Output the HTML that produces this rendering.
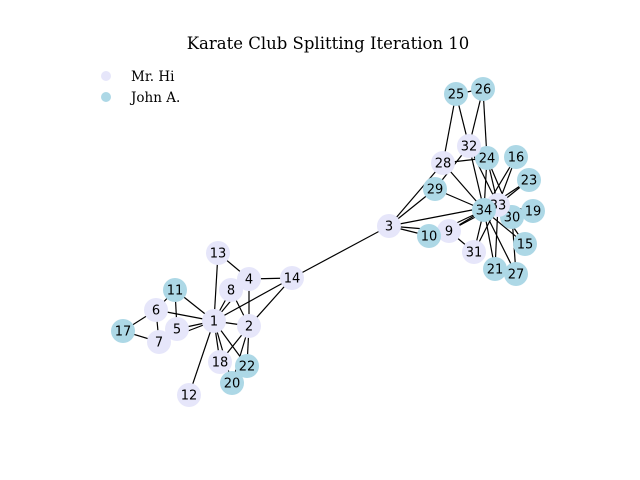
<!DOCTYPE html>
<html><head><meta charset="utf-8"><style>
body{margin:0;background:#fff}
svg{display:block}
</style></head><body>
<svg id="chart" width="640" height="480">
<rect width="640" height="480" fill="#fff"/>
<text x="328" y="49" text-anchor="middle" font-family="DejaVu Serif, Liberation Serif, serif" font-size="16.5">Karate Club Splitting Iteration 10</text>
<g>
<circle cx="106" cy="76" r="5" fill="#e6e6fa"/>
<text x="131" y="81" font-family="DejaVu Serif, Liberation Serif, serif" font-size="13.5">Mr. Hi</text>
<circle cx="106" cy="97" r="5" fill="#add8e6"/>
<text x="131" y="102" font-family="DejaVu Serif, Liberation Serif, serif" font-size="13.5">John A.</text>
</g>
<g id="edges"></g>
<g id="nodes"></g>
</svg>
<script>
const nodeIds=[1,2,3,4,5,6,7,8,9,10,11,12,13,14,15,16,17,18,19,20,21,22,23,24,25,26,27,28,29,30,31,32,33,34];
const nodeX=[214,249,389,249,177,156,159,231,449,429,175,189,218,292,525,516,123,220,533,232,495,247,529,487,456,483,516,443,435,512,474,469,498,484];
const nodeY=[321,326,226,279,329,310,342,290,231,236,290,395,253,278,244,157,331,362,211,383,269,366,180,158,94,89,274,163,189,217,252,146,205,210];
const groups=[0,0,0,0,0,0,0,0,0,1,1,0,0,0,1,1,1,0,1,1,1,1,1,1,1,1,1,0,1,1,0,0,0,1];
const edges=[[1,2],[1,4],[1,5],[1,6],[1,7],[1,8],[1,11],[1,12],[1,13],[1,14],[1,18],[1,20],[1,22],
[2,4],[2,8],[2,14],[2,18],[2,20],[2,22],[3,9],[3,10],[3,14],[3,28],[3,29],[3,33],
[4,8],[4,13],[4,14],[5,7],[5,11],[6,7],[6,11],[6,17],[7,17],[9,31],[9,33],[9,34],[10,34],[15,33],[15,34],
[16,33],[16,34],[19,33],[19,34],[21,33],[21,34],[23,33],[23,34],[24,26],[24,28],[24,30],[24,33],[24,34],
[25,26],[25,28],[25,32],[26,32],[27,30],[27,34],[28,34],[29,32],[29,34],[30,33],[30,34],[31,33],[31,34],[32,33],[32,34],[33,34]];
const colors=['#e6e6fa','#add8e6'];
const NS='http://www.w3.org/2000/svg';
const eg=document.getElementById('edges'), ng=document.getElementById('nodes');
function px(id){return nodeX[nodeIds.indexOf(id)];}
function py(id){return nodeY[nodeIds.indexOf(id)];}
edges.forEach(e=>{
  const l=document.createElementNS(NS,'line');
  l.setAttribute('x1',px(e[0]));l.setAttribute('y1',py(e[0]));
  l.setAttribute('x2',px(e[1]));l.setAttribute('y2',py(e[1]));
  l.setAttribute('stroke','#000');l.setAttribute('stroke-width','1.2');
  
  
  eg.appendChild(l);
});
nodeIds.forEach((id,i)=>{
  const g=document.createElementNS(NS,'g');
  
  
  const c=document.createElementNS(NS,'circle');
  c.setAttribute('cx',nodeX[i]);c.setAttribute('cy',nodeY[i]);c.setAttribute('r',12);
  c.setAttribute('fill',colors[groups[i]]);
  
  
  const t=document.createElementNS(NS,'text');
  t.setAttribute('x',nodeX[i]);t.setAttribute('y',nodeY[i]+4.5);
  t.setAttribute('text-anchor','middle');
  t.setAttribute('font-family','DejaVu Sans, Liberation Sans, sans-serif');
  t.setAttribute('font-size','13');
  t.textContent=id;
  
  
  g.appendChild(c);g.appendChild(t);ng.appendChild(g);
});
</script>
</body></html>
